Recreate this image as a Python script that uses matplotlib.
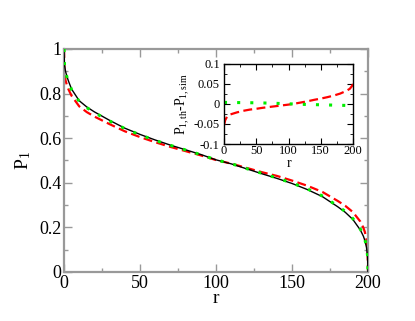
import matplotlib
matplotlib.use('Agg')
import matplotlib.pyplot as plt
from matplotlib.ticker import MultipleLocator, FormatStrFormatter

plt.rcParams['font.family'] = 'Liberation Serif'
plt.rcParams['mathtext.fontset'] = 'custom'
plt.rcParams['mathtext.rm'] = 'Liberation Serif'
plt.rcParams['mathtext.it'] = 'Liberation Serif'
plt.rcParams['axes.unicode_minus'] = False

# main panel: P_1 versus r
r_main = [0, 0.3, 1, 2, 3, 5, 10, 15, 20, 30, 40, 50, 60, 70, 80, 90, 100,
          110, 120, 130, 140, 150, 160, 170, 180, 185, 190, 195, 197, 198, 199, 199.7, 200]
p_theory = [1.0, 0.93, 0.9, 0.875, 0.855, 0.82, 0.768, 0.74, 0.718, 0.68, 0.645, 0.617,
            0.592, 0.569, 0.548, 0.527, 0.503, 0.485, 0.463, 0.441, 0.42, 0.397, 0.37,
            0.338, 0.293, 0.268, 0.236, 0.188, 0.16, 0.14, 0.11, 0.07, 0.0]
p_sim = [1.0, 0.93, 0.9, 0.872, 0.852, 0.817, 0.765, 0.737, 0.715, 0.677, 0.643, 0.615,
         0.59, 0.568, 0.547, 0.526, 0.503, 0.486, 0.464, 0.443, 0.422, 0.399, 0.373,
         0.341, 0.296, 0.272, 0.24, 0.192, 0.164, 0.144, 0.114, 0.074, 0.0]
p_approx = [1.0, 0.9, 0.86, 0.835, 0.818, 0.79, 0.743, 0.717, 0.697, 0.663, 0.631,
            0.605, 0.582, 0.561, 0.542, 0.523, 0.502, 0.486, 0.467, 0.448, 0.431, 0.41,
            0.387, 0.359, 0.319, 0.297, 0.269, 0.226, 0.198, 0.178, 0.145, 0.1, 0.0]

# inset: P_1,th - P_1,sim
r_diff = [0, 2, 5, 10, 20, 30, 40, 50, 60, 70, 80, 90, 100, 110, 120, 130, 140,
          150, 160, 170, 180, 190, 195, 198, 200]
diff_red = [-0.053, -0.04, -0.031, -0.026, -0.021, -0.017, -0.014, -0.012, -0.0095,
            -0.0075, -0.0055, -0.0035, -0.0015, 0.001, 0.004, 0.007, 0.0105, 0.0135,
            0.017, 0.021, 0.026, 0.033, 0.038, 0.044, 0.05]
r_green = [0, 25, 50, 75, 100, 125, 150, 175, 200]
diff_green = [0.004, 0.0035, 0.003, 0.002, 0.0005, -0.001, -0.002, -0.003, -0.004]

fig = plt.figure(figsize=(4.15, 3.21), dpi=100)
ax = fig.add_axes([64 / 415, 1 - 272 / 321, 304 / 415, 223 / 321])

ax.plot(r_main, p_theory, color='black', lw=1.0, zorder=3)
ax.plot(r_main, p_approx, color='red', lw=1.6, ls=(0, (4, 2)), zorder=2)
ax.plot(r_main, p_sim, color='#00ee00', lw=2.2, ls=(0, (1, 3.3)), zorder=4)

ax.set_xlim(0, 200)
ax.set_ylim(0, 1)
ax.xaxis.set_major_locator(MultipleLocator(50))
ax.xaxis.set_minor_locator(MultipleLocator(25))
ax.yaxis.set_major_locator(MultipleLocator(0.2))
ax.yaxis.set_minor_locator(MultipleLocator(0.1))
ax.yaxis.set_major_formatter(FormatStrFormatter('%g'))
for s in ax.spines.values():
    s.set_color('#999999')
    s.set_linewidth(1.6)
ax.tick_params(which='both', direction='in', top=True, right=True, color='#999999',
               width=1.0, labelsize=13, pad=2)
ax.tick_params(which='major', length=6)
ax.tick_params(which='minor', length=3)
ax.set_xlabel('r', fontsize=14, labelpad=-1)
ax.set_ylabel('P$_1$', fontsize=14, labelpad=4)

ins = fig.add_axes([224 / 415, 1 - 144 / 321, 129 / 415, 80 / 321])
ins.plot(r_diff, diff_red, color='red', lw=1.6, ls=(0, (4, 2)))
ins.plot(r_green, diff_green, color='#00ee00', lw=2.2, ls=(0, (1, 3.3)))
ins.set_xlim(0, 200)
ins.set_ylim(-0.1, 0.1)
ins.xaxis.set_major_locator(MultipleLocator(50))
ins.xaxis.set_minor_locator(MultipleLocator(25))
ins.yaxis.set_major_locator(MultipleLocator(0.05))
ins.yaxis.set_minor_locator(MultipleLocator(0.025))
ins.yaxis.set_major_formatter(FormatStrFormatter('%g'))
for s in ins.spines.values():
    s.set_linewidth(1.0)
ins.tick_params(which='both', direction='in', top=True, right=True, labelsize=9, pad=1)
ins.tick_params(axis='y', which='major', pad=3)
ins.tick_params(which='major', length=4)
ins.tick_params(which='minor', length=2)
ins.set_xlabel('r', fontsize=10, labelpad=0)
ins.set_ylabel(r'P$_{\rm 1,th}$-P$_{\rm 1,sim}$', fontsize=10, labelpad=1)

fig.savefig('out.png', dpi=100)
